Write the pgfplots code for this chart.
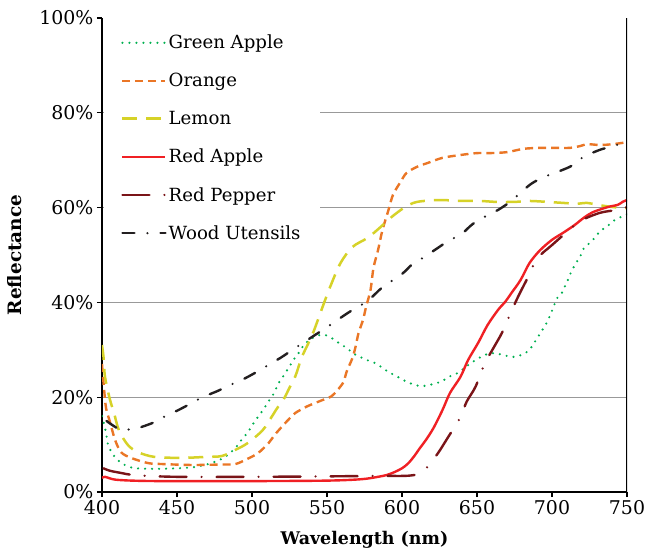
\documentclass[border=0pt]{standalone}
\usepackage{fontspec}
\setmainfont{DejaVu Serif}
\usepackage{pgfplots}
\pgfplotsset{compat=1.18}
\definecolor{cGreen}{RGB}{0,176,80}
\definecolor{cOrange}{RGB}{234,118,38}
\definecolor{cLemon}{RGB}{214,210,40}
\definecolor{cRedApple}{RGB}{240,32,36}
\definecolor{cPepper}{RGB}{122,20,24}
\definecolor{cWood}{RGB}{35,31,32}
\begin{document}
\begin{tikzpicture}
\begin{axis}[
  scale only axis, width=525bp, height=474bp,
  xmin=400, xmax=750, ymin=0, ymax=100,
  xtick={400,450,...,750}, ytick={0,20,40,60,80},
  extra y ticks={100}, extra y tick style={grid=none},
  yticklabel={\pgfmathprintnumber{\tick}\%},
  /pgf/number format/assume math mode=true,
  tick label style={font=\fontsize{19}{22}\selectfont},
  tick align=outside, major tick length=5bp,
  tick style={black, line width=1.2bp},
  axis x line*=bottom, axis y line*=left,
  axis line style={black, line width=1.6bp, -},
  ymajorgrids, grid style={draw=black!40, line width=0.9bp},
  xlabel={Wavelength (nm)},
  xlabel style={font=\bfseries\fontsize{17.5}{20}\selectfont, at={(axis description cs:0.5,-0.1013)}, anchor=center},
  ylabel={Reflectance},
  ylabel style={font=\bfseries\fontsize{18.5}{21}\selectfont, at={(axis description cs:-0.1657,0.5)}, anchor=center},
  legend image code/.code={\draw[#1] (0bp,0bp) -- (43bp,0bp);},
  legend cell align=left,
  legend style={at={(rel axis cs:0,1)}, xshift=1.6bp, anchor=north west, draw=none, fill=white,
    font=\fontsize{18.2}{21}\selectfont, row sep=19bp, inner xsep=17.4bp, inner ysep=15bp},
]
\addplot[color=cGreen, line width=2.4bp, line cap=round, dash pattern=on 0bp off 7bp, smooth] coordinates {
(400,16) (402,13.5) (403,11.8) (404,10) (406,8.6) (409,7.2) (413,6.1) (418,5.3) (423,5) (430,4.9)
(440,4.9) (450,5) (460,5.2) (467,5.6) (472,6) (478,6.7) (482,7.4) (486,8.4) (490,9.7) (493,11)
(497,12.5) (500,14) (503,15.4) (506,16.7) (509,18.1) (512,19.6) (515,21) (517,22.6) (520,24)
(523,25.5) (526,27) (529,28.5) (532,29.7) (535,31.2) (541,32.6) (545,33.1) (549,33.1) (554,32.3)
(558,31.4) (564,30.2) (567,29.3) (572,28.5) (577,27.8) (582,27.2) (587,26.2) (591,25.3) (596,24.5)
(601,23.6) (605,23) (611,22.4) (616,22.4) (621,22.8) (627,23.4) (631,24.3) (636,24.9) (641,26)
(645,27) (650,28) (655,28.9) (660,29.3) (665,29.1) (670,28.7) (675,28.5) (681,29.1) (685,30)
(688,31.4) (691,32.9) (694,34.4) (697,36) (699,37.5) (701,39) (703,40.7) (707,42.2) (709,43.7)
(711,45) (713,46.6) (716,48.3) (719,49.8) (721,51.3) (725,52.5) (729,53.8) (732,55) (737,56.1)
(741,57.2) (747,58.2) (750,58.6)};
\addlegendentry{Green Apple}
\addplot[color=cOrange, line width=2.4bp, dash pattern=on 8bp off 5bp, smooth] coordinates {
(400,27) (401.3,22) (402.7,17.7) (405.3,14.8) (408.7,11) (412.7,8.4) (419.3,7.2) (430.7,6.1)
(440,5.9) (460,5.7) (480,5.8) (489,5.9) (497,7) (504,8.2) (511,10.3) (515,12) (520,13.8) (525,15.5)
(529,16.7) (537,18.1) (547,19.4) (553,20.2) (557,21.5) (561,23.2) (563,25.3) (567,28.3) (569,30.6)
(571,33.5) (574,36.3) (576,39) (579,42.6) (581,47.3) (584,51) (587,55.3) (591,59.5) (594,62.7)
(599,65.4) (603,67.3) (610,68.6) (617,69.4) (627,70.5) (639,71.1) (650,71.5) (659,71.5) (670,71.7)
(681,72.4) (692,72.6) (701,72.6) (712,72.6) (719,73) (723,73.4) (732,73.2) (741,73.4) (750,73.8)};
\addlegendentry{Orange}
\addplot[color=cLemon, line width=2.5bp, dash pattern=on 15bp off 9bp, smooth] coordinates {
(400,31) (401,28.5) (402,24.3) (405.3,19.5) (408,16.7) (411.3,13) (417.3,9.9) (424,8.4) (435,7.4)
(453,7.2) (469,7.4) (480,7.6) (489,8.9) (497,10.3) (507,13) (513,15.8) (517,17.8) (521,19.5)
(525,22) (529,24.5) (533,28.3) (537,31) (541,33.8) (547,39) (552,43.2) (559,48.3) (567,51.7)
(577,53.6) (585,55.7) (593,58) (602,60.1) (610,61.2) (625,61.6) (639,61.4) (652,61.4) (663,61.2)
(675,61.2) (685,61.4) (697,61.2) (707,61) (717,60.8) (723,61) (732,60.5) (741,60.1) (750,59.9)};
\addlegendentry{Lemon}
\addplot[color=cRedApple, line width=2.4bp, smooth] coordinates {
(400,3) (402,3.2) (405,2.9) (409,2.6) (420,2.4) (440,2.3) (500,2.3) (550,2.4) (573,2.7) (584,3.2)
(590,3.6) (595,4.2) (600,5) (604,6) (608,7.5) (612,9.3) (616,11) (621,13.5) (627,17.3) (632,20.9)
(639,24.3) (644,27.8) (651,31.6) (657,35.2) (664,38.4) (669,40.2) (673,42) (679,44.7) (685,48.3)
(692,51) (700,53.2) (707,54.6) (715,56.3) (721,57.8) (727,59) (737,60.1) (744,60.6) (747,61.2)
(750,61.6)};
\addlegendentry{Red Apple}
\addplot[color=cPepper, line width=2.4bp, line cap=round, dash pattern=on 27bp off 15bp on 0bp off 15bp, smooth] coordinates {
(401,5) (405,4.5) (413,4) (420,3.6) (430,3.4) (451,3.2) (500,3.2) (550,3.3) (584,3.4) (602,3.4)
(610,3.7) (614,4.4) (617,5.3) (624,8.2) (630,11.2) (639,15.8) (643,19) (649,22.2) (655,27)
(661,30.4) (667,33.8) (673,38.2) (678,41.6) (683,44.7) (690,49.2) (700,52.1) (709,54.6) (719,57.2)
(732,58.9) (743,59.5) (750,60.1)};
\addlegendentry{Red Pepper}
\addplot[color=cWood, line width=2.4bp, line cap=round, dash pattern=on 12bp off 13bp on 0bp off 13bp, smooth] coordinates {
(403,15) (407,14.1) (413,13) (418,13.2) (424,13.5) (434,14.6) (441,15.8) (451,17.3) (460,18.8)
(467,20) (477,21.3) (487,22.8) (493,23.6) (503,25.3) (513,27.2) (519,28.3) (528,30.2) (539,32.5)
(552,35.2) (564,37.8) (577,40.3) (587,43.2) (600,46) (607,48.1) (614,49.4) (623,51.3) (632,53.2)
(639,54.2) (647,56.5) (657,58.4) (664,59.5) (672,61.2) (681,63.7) (687,65.2) (695,66.5) (705,67.7)
(713,68.8) (721,70.7) (732,72.2) (739,72.8) (749,73.8)};
\addlegendentry{Wood Utensils}
\draw[black, line width=1.6bp] (rel axis cs:1,0) -- (rel axis cs:1,1);
\end{axis}
\pgfresetboundingbox
\path ([shift={(-102bp,-60bp)}]current axis.south west) rectangle ([shift={(20bp,18bp)}]current axis.north east);
\end{tikzpicture}
\end{document}
